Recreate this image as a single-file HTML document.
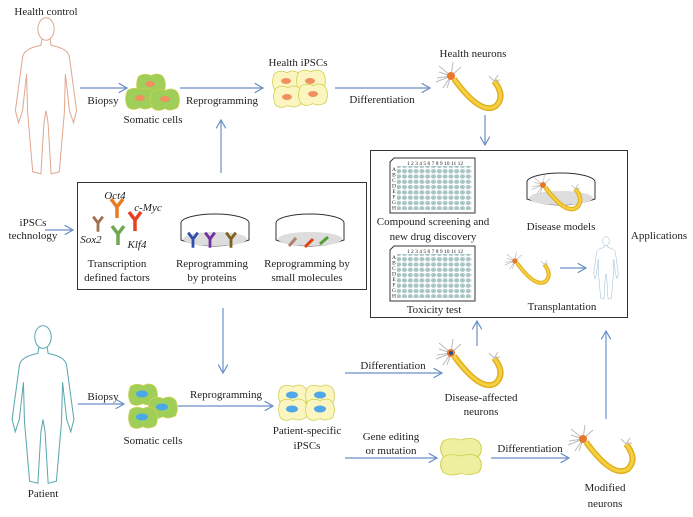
<!DOCTYPE html>
<html><head><meta charset="utf-8"><style>
body{margin:0;background:#fff}
text{font-family:"Liberation Serif",serif;font-size:11px;fill:#222;text-anchor:middle}
.sm{font-size:5.5px}
.ln{stroke:#6b8fc7;stroke-width:1.2;fill:none}
</style></head><body>
<svg width="693" height="512" viewBox="0 0 693 512" xmlns="http://www.w3.org/2000/svg">
<defs>
<marker id="a" markerWidth="8" markerHeight="8" refX="7" refY="4" orient="auto"><path d="M0,0 L7,4 L0,8" fill="none" stroke="#6b8fc7" stroke-width="1"/></marker>
<g id="body"><ellipse cx="0" cy="0" rx="8" ry="11" fill="none" stroke="currentColor"/><path d="M-4,10 L-5,16 Q-22,19 -23,28 L-30,80 L-27,92 L-23,80 L-19,44 L-18,82 L-13,140 L-5,142 L-2,92 L0,80 L2,92 L5,142 L13,140 L18,82 L19,44 L23,80 L27,92 L30,80 L23,28 Q22,19 5,16 L4,10" fill="none" stroke="currentColor"/></g>
<g id="neu"><g stroke="#bbb" stroke-width="1"><path d="M0,0 l-12,-10 M0,0 l-14,2 M0,0 l-8,12 M0,0 l2,-14 M0,0 l10,-9 M0,0 l-12,-4 M0,0 l-4,12 M0,0 l-15,6"/></g><circle r="4" fill="#e8782a"/><path d="M3,3 Q30,40 45,30 Q55,20 43,5" fill="none" stroke="#e0b020" stroke-width="6"/><path d="M3,3 Q30,40 45,30 Q55,20 43,5" fill="none" stroke="#f5d040" stroke-width="3"/><g stroke="#bbb"><path d="M43,5 l-5,-5 M43,5 l4,-6 M43,5 l6,-1"/></g></g>
<g id="c0"><path d="M-16,-11 Q-8,-16 0,-12 Q10,-17 16,-10 Q21,0 16,10 Q6,15 0,11 Q-10,16 -16,10 Q-21,0 -16,-11Z" stroke="#cfcf50"/></g>
<g id="cell"><use href="#c0" transform="scale(0.78)"/></g>
<pattern id="dots" width="5.8" height="5.3" patternUnits="userSpaceOnUse"><ellipse cx="2.9" cy="2.6" rx="2.5" ry="2.1" fill="#a8c4c4"/></pattern>
<g id="plate"><path d="M4,0 H85 V55 H0 V4Z" fill="#fff" stroke="#333"/><rect x="7" y="8" width="75" height="44" fill="url(#dots)"/>
<text class="sm" x="45" y="7">1 2 3 4 5 6 7 8 9 10 11 12</text>
<text class="sm" x="4" y="13">A</text><text class="sm" x="4" y="18.5">B</text><text class="sm" x="4" y="24">C</text><text class="sm" x="4" y="29.5">D</text><text class="sm" x="4" y="35">E</text><text class="sm" x="4" y="40.5">F</text><text class="sm" x="4" y="46">G</text><text class="sm" x="4" y="51.5">H</text></g>
<g id="dish"><ellipse cx="0" cy="0" rx="34" ry="9" fill="#fff" stroke="#333"/><path d="M-34,0 V17 Q0,29 34,17 V0" fill="#fff" stroke="#333"/><ellipse cx="0" cy="16" rx="32" ry="7" fill="#ddd"/></g>
<g id="ab"><path d="M0,16 V5 M0,5 L-6,-3 M0,5 L6,-3" stroke-width="3.5" fill="none"/></g>
</defs>

<text x="46" y="15">Health control</text>
<use href="#body" style="color:#e0a890" transform="translate(46,29) scale(1.02)"/>
<text x="43" y="497">Patient</text>
<use href="#body" style="color:#5aa8b0" transform="translate(43,337) scale(1.03)"/>

<!-- top row -->
<path class="ln" d="M80,88 H127" marker-end="url(#a)"/>
<text x="103" y="104">Biopsy</text>
<g fill="#9fcf58"><use href="#cell" x="151" y="85"/><use href="#cell" x="140" y="99"/><use href="#cell" x="165" y="100"/></g>
<g fill="#f09060"><ellipse cx="150" cy="84" rx="5" ry="3"/><ellipse cx="140" cy="98" rx="5" ry="3"/><ellipse cx="165" cy="99" rx="5" ry="3"/></g>
<text x="153" y="123">Somatic cells</text>
<path class="ln" d="M180,88 H263" marker-end="url(#a)"/>
<text x="222" y="104">Reprogramming</text>
<path class="ln" d="M221,173 V120" marker-end="url(#a)"/>
<g fill="#fbf6c0"><use href="#cell" x="287" y="82"/><use href="#cell" x="311" y="81"/><use href="#cell" x="288" y="97"/><use href="#cell" x="313" y="95"/></g>
<g fill="#f09060"><ellipse cx="286" cy="81" rx="5" ry="3"/><ellipse cx="310" cy="81" rx="5" ry="3"/><ellipse cx="287" cy="97" rx="5" ry="3"/><ellipse cx="313" cy="94" rx="5" ry="3"/></g>
<text x="298" y="66">Health iPSCs</text>
<path class="ln" d="M335,88 H430" marker-end="url(#a)"/>
<text x="382" y="103">Differentiation</text>
<text x="473" y="57">Health neurons</text>
<use href="#neu" x="451" y="76"/>
<path class="ln" d="M485,115 V145" marker-end="url(#a)"/>

<!-- middle box -->
<rect x="77.5" y="182.5" width="289" height="107" fill="none" stroke="#333"/>
<text x="33" y="226">iPSCs</text><text x="33" y="239">technology</text>
<path class="ln" d="M45,230 H73" marker-end="url(#a)"/>
<g stroke="#e87c20"><use href="#ab" x="117" y="202"/></g>
<g stroke="#e84020"><use href="#ab" x="135" y="215"/></g>
<g stroke="#a07050"><use href="#ab" transform="translate(98,219) scale(0.8)"/></g>
<g stroke="#70a850"><use href="#ab" x="118" y="229"/></g>
<text x="115" y="199" font-style="italic">Oct4</text>
<text x="148" y="211" font-style="italic">c-Myc</text>
<text x="91" y="243" font-style="italic">Sox2</text>
<text x="137" y="248" font-style="italic">Klf4</text>
<text x="117" y="267">Transcription</text><text x="117" y="281">defined factors</text>
<use href="#dish" x="215" y="223"/>
<g stroke="#3050b0"><use href="#ab" transform="translate(193,235) scale(0.8)"/></g><g stroke="#7030a0"><use href="#ab" transform="translate(210,235) scale(0.8)"/></g><g stroke="#806020"><use href="#ab" transform="translate(231,235) scale(0.8)"/></g>
<text x="212" y="267">Reprogramming</text><text x="212" y="281">by proteins</text>
<use href="#dish" x="310" y="223"/>
<g stroke-width="3"><path d="M289,246 l7,-8" stroke="#b08070"/><path d="M305,247 l8,-8" stroke="#e04010"/><path d="M320,244 l8,-7" stroke="#50a030"/></g>
<text x="307" y="267">Reprogramming by</text><text x="307" y="281">small molecules</text>

<!-- applications box -->
<rect x="370.5" y="150.5" width="257" height="167" fill="none" stroke="#333"/>
<use href="#plate" x="390" y="158"/>
<text x="433" y="225">Compound screening and</text><text x="433" y="240">new drug discovery</text>
<use href="#plate" x="390" y="246"/>
<text x="434" y="313">Toxicity test</text>
<use href="#dish" x="561" y="182"/>
<use href="#neu" transform="translate(543,185) scale(0.75)"/>
<text x="561" y="230">Disease models</text>
<use href="#neu" transform="translate(515,261) scale(0.68)"/>
<path class="ln" d="M560,268 H586" marker-end="url(#a)"/>
<use href="#body" style="color:#7aaccc" transform="translate(606,241) scale(0.41)"/>
<text x="562" y="310">Transplantation</text>
<text x="659" y="239">Applications</text>

<!-- patient row -->
<path class="ln" d="M223,308 V373" marker-end="url(#a)"/>
<path class="ln" d="M78,404 H124" marker-end="url(#a)"/>
<text x="103" y="400">Biopsy</text>
<g fill="#9fcf58"><use href="#cell" x="143" y="395"/><use href="#cell" x="163" y="408"/><use href="#cell" x="143" y="418"/></g>
<g fill="#4aa8e8"><ellipse cx="142" cy="394" rx="6" ry="3.5"/><ellipse cx="162" cy="407" rx="6" ry="3.5"/><ellipse cx="142" cy="417" rx="6" ry="3.5"/></g>
<text x="153" y="444">Somatic cells</text>
<path class="ln" d="M178,406 H273" marker-end="url(#a)"/>
<text x="226" y="398">Reprogramming</text>
<g fill="#fbf6c0"><use href="#cell" x="293" y="396"/><use href="#cell" x="320" y="396"/><use href="#cell" x="293" y="410"/><use href="#cell" x="320" y="410"/></g>
<g fill="#50a8e8"><ellipse cx="292" cy="395" rx="6" ry="3.5"/><ellipse cx="320" cy="395" rx="6" ry="3.5"/><ellipse cx="292" cy="409" rx="6" ry="3.5"/><ellipse cx="320" cy="409" rx="6" ry="3.5"/></g>
<text x="307" y="434">Patient-specific</text><text x="307" y="449">iPSCs</text>
<path class="ln" d="M345,373 H442" marker-end="url(#a)"/>
<text x="393" y="369">Differentiation</text>
<use href="#neu" x="451" y="353"/>
<circle cx="451" cy="353" r="2" fill="#2050a0"/>
<text x="481" y="401">Disease-affected</text><text x="481" y="415">neurons</text>
<path class="ln" d="M477,346 V321" marker-end="url(#a)"/>
<text x="391" y="440">Gene editing</text><text x="391" y="454">or mutation</text>
<path class="ln" d="M345,458 H437" marker-end="url(#a)"/>
<g fill="#eef0a0"><use href="#c0" transform="translate(461,449) scale(1.1,0.75)"/><use href="#c0" transform="translate(461,465) scale(1.1,0.75)"/></g>
<text x="530" y="452">Differentiation</text>
<path class="ln" d="M491,458 H569" marker-end="url(#a)"/>
<use href="#neu" x="583" y="439"/>
<text x="605" y="491">Modified</text><text x="605" y="507">neurons</text>
<path class="ln" d="M606,419 V331" marker-end="url(#a)"/>
</svg>
</body></html>
